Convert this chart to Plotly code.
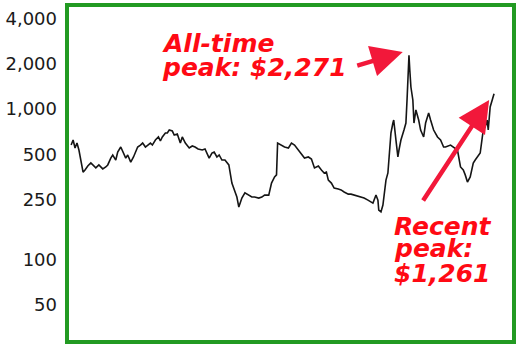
import plotly.graph_objects as go

# ---- data ----
years = [1859.5, 1860.2, 1860.9, 1861.6, 1862.3, 1863.0, 1863.8, 1864.5, 1865.5, 1866.6,
         1867.3, 1868.4, 1869.5, 1870.9, 1872.0, 1872.7, 1873.8, 1874.5, 1875.6, 1876.3,
         1877.4, 1878.1, 1879.2, 1879.9, 1881.0, 1882.0, 1883.5, 1884.5, 1885.3, 1886.3,
         1887.0, 1888.1, 1888.8, 1889.9, 1891.0, 1891.7, 1892.4, 1893.5, 1894.2, 1894.9,
         1896.0, 1896.7, 1897.8, 1898.9, 1899.6, 1900.7, 1902.1, 1903.2, 1904.2, 1905.3,
         1906.8, 1907.8, 1909.3, 1910.3, 1911.1, 1912.1, 1912.9, 1913.9, 1915.0, 1915.7,
         1916.4, 1917.5, 1918.6, 1919.3, 1920.0, 1921.1, 1922.2, 1923.6, 1924.7, 1925.7,
         1927.2, 1928.3, 1929.3, 1930.8, 1931.8, 1932.9, 1933.6, 1934.0, 1935.4, 1936.5,
         1937.9, 1939.0, 1940.1, 1941.5, 1942.6, 1943.7, 1945.1, 1946.2, 1947.3, 1948.7,
         1949.8, 1950.8, 1951.6, 1952.3, 1953.4, 1954.4, 1955.9, 1956.9, 1958.0, 1959.5,
         1960.5, 1961.6, 1963.0, 1964.1, 1965.2, 1966.6, 1967.7, 1968.4, 1969.5, 1970.2,
         1970.5, 1971.3, 1972.0, 1972.3, 1973.1, 1973.8, 1974.5, 1974.9, 1975.6, 1975.9,
         1976.7, 1977.4, 1977.8, 1978.5, 1979.6, 1980.3, 1980.7, 1981.0, 1981.4, 1981.7,
         1982.1, 1982.8, 1983.2, 1983.9, 1984.9, 1985.6, 1986.7, 1987.4, 1988.5, 1989.2,
         1990.3, 1991.7, 1992.8, 1993.9, 1994.6, 1996.4, 1997.4, 1998.9, 2000.0, 2001.0,
         2001.7, 2002.5, 2003.5, 2004.6, 2005.3, 2006.1, 2007.1, 2008.2, 2008.9, 2009.6,
         2010.0, 2010.7, 2011.4, 2012.1]

prices = [576, 622, 551, 594, 534, 458, 381, 393, 418, 438,
          425, 406, 425, 400, 412, 425, 472, 495, 458, 518,
          559, 518, 472, 495, 444, 480, 559, 576, 594, 559,
          576, 594, 576, 622, 652, 613, 652, 693, 693, 725,
          714, 672, 682, 594, 652, 594, 551, 568, 559, 542,
          534, 542, 472, 510, 518, 480, 495, 458, 458, 438,
          425, 322, 281, 260, 223, 256, 277, 268, 260, 260,
          256, 260, 268, 268, 322, 354, 365, 594, 576, 559,
          551, 594, 576, 534, 510, 472, 480, 465, 406, 418,
          393, 376, 381, 337, 322, 298, 294, 290, 281, 272,
          272, 268, 264, 260, 256, 248, 241, 237, 268, 248,
          213, 207, 230, 260, 337, 376, 534, 693, 807, 845,
          622, 480, 534, 622, 725, 807, 1148, 1683, 2271, 1816,
          1400, 1148, 807, 985, 845, 725, 652, 807, 941, 845,
          725, 652, 622, 559, 559, 576, 559, 534, 412, 393,
          365, 327, 354, 438, 458, 480, 510, 725, 759, 845,
          725, 1031, 1148, 1261]

tick_vals = [50, 100, 250, 500, 1000, 2000, 4000]
tick_text = ["50", "100", "250", "500", "1,000", "2,000", "4,000"]

GREEN = "#229a22"
RED_TEXT = "#ff0a14"
RED_ARROW = "#f2183a"
FONT = "DejaVu Sans"

fig = go.Figure()
fig.add_trace(go.Scatter(x=years, y=prices, mode="lines",
                         line=dict(color="#151515", width=1.6),
                         hoverinfo="skip", showlegend=False))

fig.update_layout(
    width=520, height=347,
    margin=dict(l=64, r=6, t=5, b=5),
    paper_bgcolor="white", plot_bgcolor="white",
    showlegend=False,
    xaxis=dict(range=[1858.0, 2019.3], showgrid=False, zeroline=False,
               showticklabels=False, ticks="", showline=False),
    yaxis=dict(type="log", range=[1.452, 3.691], showgrid=False, zeroline=False,
               tickvals=tick_vals, ticktext=tick_text, ticks="", showline=False,
               ticklabelstandoff=9,
               tickfont=dict(family=FONT, size=18, color="#1a1a1a")),
)

# green frame
fig.add_shape(type="rect", xref="paper", yref="paper", x0=0, x1=1, y0=0, y1=1,
              line=dict(color=GREEN, width=4), layer="above")

def label(txt, x, y):
    fig.add_annotation(text=txt, xref="paper", yref="paper", x=x, y=y,
                       xanchor="left", yanchor="middle", showarrow=False,
                       borderpad=0,
                       font=dict(family=FONT, size=25, color=RED_TEXT,
                                 weight="bold", style="italic"))

label("All-time", 0.2111, 0.8843)
label("peak: $2,271", 0.2111, 0.816)
label("Recent", 0.7289, 0.344)
label("peak:", 0.7289, 0.276)
label("$1,261", 0.7289, 0.2047)

def arrow(x, y, ax, ay):
    fig.add_annotation(text="", xref="paper", yref="paper", x=x, y=y,
                       ax=ax, ay=ay, showarrow=True, arrowhead=2,
                       arrowsize=1.4, arrowwidth=4.5, arrowcolor=RED_ARROW)

arrow(0.7511, 0.8605, -47, 14)
arrow(0.9444, 0.7181, -67, 102)

fig.write_html("out.html")
